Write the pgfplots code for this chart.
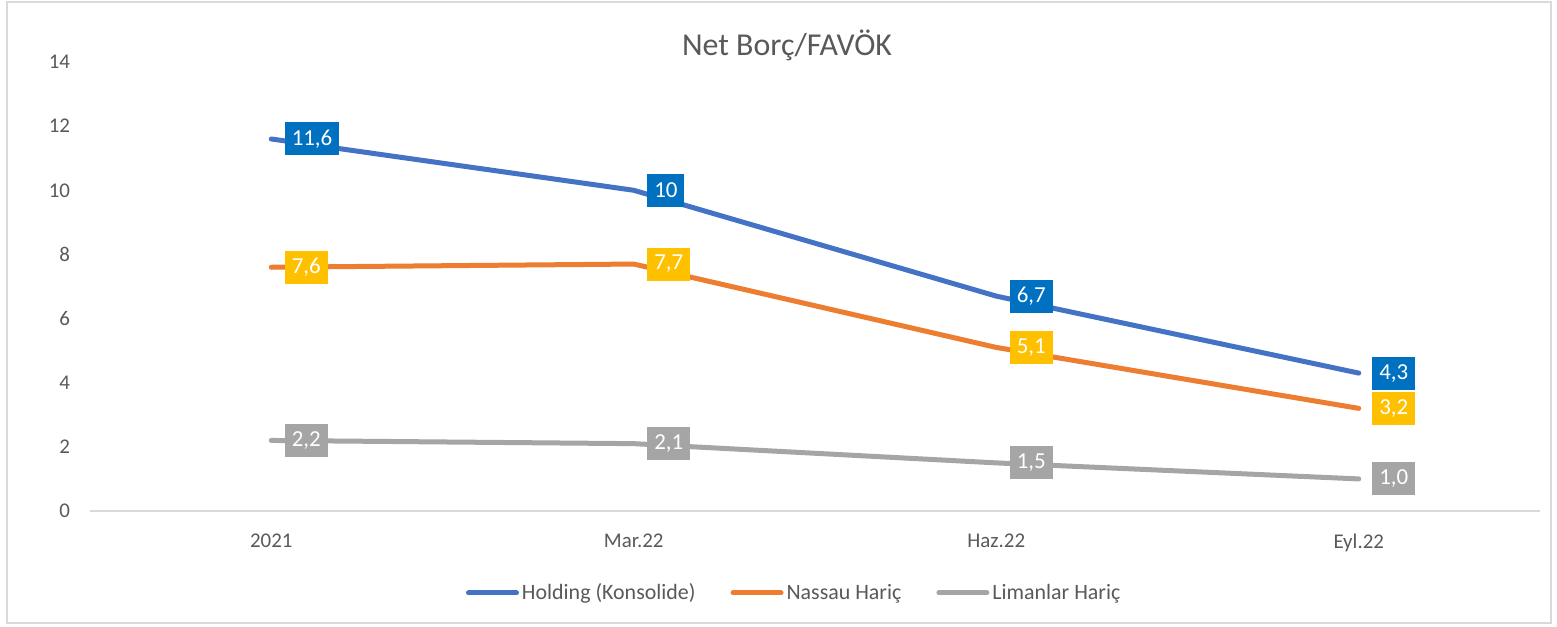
\documentclass[border=0pt]{standalone}
\usepackage{pgfplots}
\pgfplotsset{compat=1.18}
\usepackage{fontspec}
\setmainfont{Carlito}
\definecolor{hblue}{HTML}{4472C4}
\definecolor{hbox}{HTML}{0070C0}
\definecolor{norange}{HTML}{ED7D31}
\definecolor{nbox}{HTML}{FFC000}
\definecolor{lgray}{HTML}{A5A5A5}
\definecolor{txt}{HTML}{595959}
\definecolor{axl}{HTML}{D9D9D9}
\pgfplotstableread{
x y lab
0 11.6 11,6
1 10.0 10
2 6.7 6,7
3 4.3 4,3
}\holding
\pgfplotstableread{
x y lab
0 7.6 7,6
1 7.7 7,7
2 5.1 5,1
3 3.2 3,2
}\nassau
\pgfplotstableread{
x y lab
0 2.2 2,2
1 2.1 2,1
2 1.5 1,5
3 1.0 1,0
}\limanlar
\begin{document}
\begin{tikzpicture}
\path[use as bounding box] (-45bp,-58bp) rectangle (733.5bp,255.5bp);
\draw[axl, line width=1bp] (-41.5bp,-56bp) rectangle (730.5bp,254.5bp);
\begin{axis}[
  at={(0,0)}, anchor=south west,
  scale only axis, width=725bp, height=224.5bp,
  xmin=-0.5, xmax=3.5, ymin=0, ymax=14,
  xtick={0,1,2,3}, xticklabels={2021,Mar.22,Haz.22,Eyl.22},
  ytick={0,2,...,14},
  major tick length=0pt,
  axis line style={draw=none},
  clip=false,
  /pgf/number format/assume math mode=true,
  tick label style={font=\fontsize{10.5}{12}\selectfont, text=txt},
  yticklabel style={xshift=-6.5bp},
  xticklabel style={yshift=-8bp},
  legend columns=3,
  legend style={at={(0.486,-0.1826)}, anchor=center, draw=none, fill=none,
    font=\fontsize{11}{13}\selectfont, text=txt,
    nodes={inner sep=1.5bp},
    /tikz/every even column/.append style={column sep=16bp}},
  legend image code/.code={\draw[#1, line width=2.5bp, line cap=round] (0bp,0bp) -- (24bp,0bp);},
  point meta=explicit symbolic,
  every axis plot/.append style={line width=2.5bp, line cap=round, line join=round},
]
\draw[axl, line width=1bp] (axis cs:-0.5,0) -- (axis cs:3.5,0);
\addplot[hblue, nodes near coords, nodes near coords style={anchor=west, xshift=5.5bp, fill=hbox, text=white, font=\fontsize{11.5}{13}\selectfont, inner xsep=3.5bp, inner ysep=0pt, minimum height=16.5bp}] table[x=x, y=y, meta=lab] {\holding};
\addlegendentry{Holding (Konsolide)}
\addplot[norange, nodes near coords, nodes near coords style={anchor=west, xshift=5.5bp, fill=nbox, text=white, font=\fontsize{11.5}{13}\selectfont, inner xsep=3.5bp, inner ysep=0pt, minimum height=16.5bp}] table[x=x, y=y, meta=lab] {\nassau};
\addlegendentry{Nassau Hariç}
\addplot[lgray, nodes near coords, nodes near coords style={anchor=west, xshift=5.5bp, fill=lgray, text=white, font=\fontsize{11.5}{13}\selectfont, inner xsep=3.5bp, inner ysep=0pt, minimum height=16.5bp}] table[x=x, y=y, meta=lab] {\limanlar};
\addlegendentry{Limanlar Hariç}
\end{axis}
\node[text=txt, font=\fontsize{16}{19}\selectfont] at (348.5bp,233bp) {Net Borç/FAVÖK};
\end{tikzpicture}
\end{document}
